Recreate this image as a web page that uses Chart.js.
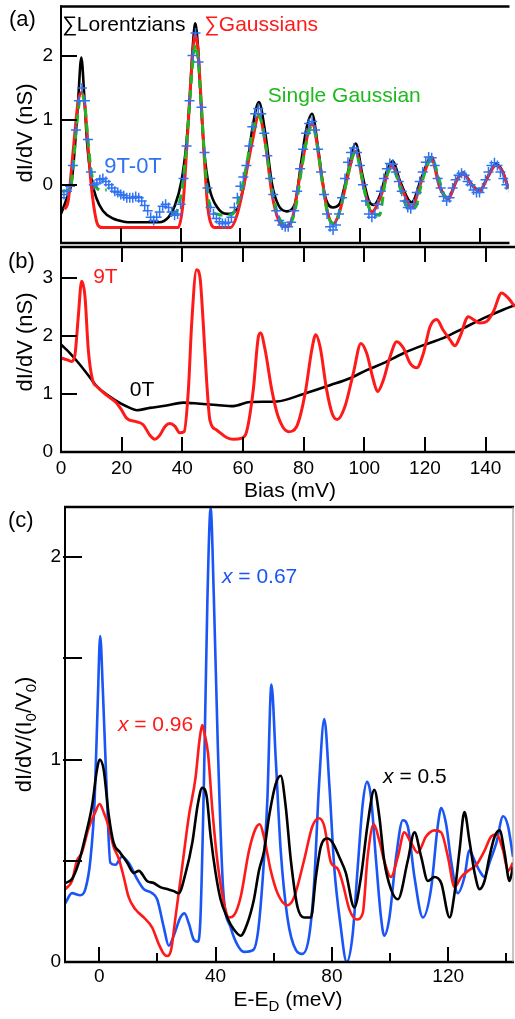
<!DOCTYPE html>
<html>
<head>
<meta charset="utf-8">
<script src="https://cdn.jsdelivr.net/npm/chart.js@4.4.1/dist/chart.umd.min.js"></script>
<style>
  html, body { margin: 0; padding: 0; background: #fff; }
  #wrap { position: relative; width: 515px; height: 1019px; overflow: hidden; }
  #wrap canvas { position: absolute; left: 0; }
</style>
</head>
<body>
<div id="wrap">
  <canvas id="cA" width="515" height="250" style="top:0px"></canvas>
  <canvas id="cB" width="515" height="262" style="top:240px"></canvas>
  <canvas id="cC" width="515" height="519" style="top:500px"></canvas>
</div>
<script>
///////////////////////////////////////////////////////////////
// data
///////////////////////////////////////////////////////////////

// (a) sum of Lorentzians
const A_LOR_X = [0, 2, 3.6, 4.7, 5.7, 6.8, 7.9, 8.7, 10.1, 11.8, 14, 17.3, 21, 24, 32.7, 36, 38.1, 40.3, 41.9, 43, 44.1, 44.9, 45.8, 46.8, 47.9, 49.6, 52.3, 55.6, 59, 60.5, 62.3, 64, 66.2, 68.4, 70.6, 72.8, 75.5, 78.2, 80.4, 82.1, 84, 86, 88.2, 90.9, 93.1, 95.8, 98.6, 100.8, 103, 104.6, 106.8, 109, 111, 113.4, 117.3, 120.6, 123.9, 126.7, 129.5, 132.3, 134.5, 137.2, 140, 142.7, 145.4, 147.6, 149.7];
const A_LOR_Y = [-0.45, -0.2, 0.06, 0.62, 1.28, 1.97, 1.28, 0.67, 0.11, -0.2, -0.4, -0.52, -0.57, -0.58, -0.58, -0.5, -0.32, 0.06, 0.62, 1.28, 2.15, 2.5, 2.15, 1.28, 0.52, -0.04, -0.35, -0.45, -0.37, -0.15, 0.3, 0.87, 1.28, 0.78, 0.01, -0.32, -0.41, -0.3, 0.37, 0.87, 1.1, 0.57, -0.15, -0.35, -0.3, 0.16, 0.64, 0.16, -0.25, -0.31, -0.15, 0.21, 0.37, 0.06, -0.27, 0.11, 0.43, -0.02, -0.2, 0.07, 0.19, 0.02, -0.09, 0.12, 0.32, 0.22, -0.05];

// (a) sum of Gaussians
const A_GAU_X = [1.2, 2.4, 4.06, 5.7, 6.8, 7.9, 9.0, 10.1, 11.8, 12.9, 14, 39.2, 40.9, 42, 43.1, 44.2, 44.9, 45.8, 46.9, 48, 49.1, 50.8, 51.5, 56.8, 59, 61.2, 64, 66.2, 68.4, 70.6, 72.8, 75, 77.5, 80.4, 84, 87.1, 89.3, 91.1, 93.6, 95.8, 98.6, 101.3, 104, 106.8, 110.6, 113.9, 117.3, 120.6, 123.9, 126.7, 129.5, 132.3, 134.5, 137.2, 140, 142.7, 145.4, 147.6, 149.7];
const A_GAU_Y = [-0.38, -0.25, 0.52, 1.28, 1.43, 1.28, 0.63, 0.0, -0.55, -0.65, -0.66, -0.66, -0.25, 0.52, 1.38, 2.1, 2.33, 2.1, 1.28, 0.37, -0.35, -0.65, -0.66, -0.66, -0.45, 0.0, 0.67, 1.08, 0.62, -0.15, -0.55, -0.65, -0.5, 0.27, 0.95, 0.16, -0.45, -0.6, -0.35, 0.11, 0.52, -0.04, -0.42, -0.2, 0.29, -0.04, -0.35, 0.06, 0.4, -0.04, -0.22, 0.06, 0.18, 0.01, -0.1, 0.11, 0.3, 0.21, -0.06];

// (a) single Gaussian fits (gap where no fit is drawn)
const A_SG_X = [0, 2, 3.3, 4.2, 5.2, 6.2, 7, 7.9, 9, 10, 11, 12, 13.5, 15.3, 20, 37, 39, 40.5, 42, 43.1, 44.2, 45, 45.8, 46.9, 48, 49.1, 50.5, 52, 55, 57.5, 59, 61, 63, 64.5, 66.2, 68.2, 70.3, 72.5, 74.5, 76.5, 78.5, 80.5, 82.5, 84, 85.8, 87.5, 89.5, 91.3, 93.3, 95.5, 97.2, 98.6, 100.3, 102.3, 104.3, 106.5, 108.5, 110.6, 112.5, 114.5, 116.3, 118.5, 120.5, 122.5, 124, 125.8, 127.8, 129.5];
const A_SG_Y = [-0.1, -0.09, -0.02, 0.35, 0.9, 1.3, 1.4, 1.25, 0.7, 0.25, 0.02, -0.05, -0.08, -0.08, null, -0.47, -0.38, -0.05, 0.6, 1.3, 1.95, 2.17, 1.95, 1.25, 0.45, -0.15, -0.4, -0.45, -0.47, -0.45, -0.3, 0.05, 0.55, 0.9, 1.06, 0.7, 0.0, -0.45, -0.6, -0.6, -0.35, 0.25, 0.75, 0.92, 0.6, 0.0, -0.5, -0.6, -0.4, 0.05, 0.4, 0.5, 0.2, -0.25, -0.45, -0.47, 0.05, 0.27, 0.1, -0.22, -0.35, -0.35, 0.0, 0.3, 0.42, 0.2, -0.12, -0.25];

// (a) measured 9T-0T
const A_DATA_X = [0, 1, 2, 3, 4, 5, 6, 7, 8, 9, 10, 11, 12, 13, 14, 15, 16, 17, 18, 19, 20, 21, 22, 23, 24, 25, 26, 27, 28, 29, 30, 31, 32, 33, 34, 35, 36, 37, 38, 39, 40, 41, 42, 43, 44, 45, 46, 47, 48, 49, 50, 51, 52, 53, 54, 55, 56, 57, 58, 59, 60, 61, 62, 63, 64, 65, 66, 67, 68, 69, 70, 71, 72, 73, 74, 75, 76, 77, 78, 79, 80, 81, 82, 83, 84, 85, 86, 87, 88, 89, 90, 91, 92, 93, 94, 95, 96, 97, 98, 99, 100, 101, 102, 103, 104, 105, 106, 107, 108, 109, 110, 111, 112, 113, 114, 115, 116, 117, 118, 119, 120, 121, 122, 123, 124, 125, 126, 127, 128, 129, 130, 131, 132, 133, 134, 135, 136, 137, 138, 139, 140, 141, 142, 143, 144, 145, 146, 147, 148, 149, 150];
const A_DATA_Y = [
  -0.2, -0.15, -0.1, -0.02, 0.3, 0.85, 1.3, 1.5, 1.3, 0.7,
  0.2, 0.0, 0.03, 0.08, 0.1, 0.05, 0.0, -0.05, -0.1, -0.12,
  -0.15, -0.17, -0.2, -0.2, -0.2, -0.18, -0.2, -0.25, -0.32, -0.4,
  -0.5, -0.55, -0.5, -0.42, -0.33, -0.3, -0.35, -0.42, -0.47, -0.45,
  -0.3, 0.1, 0.6, 1.3, 2.0, 2.35, 1.9, 1.2, 0.5, -0.05,
  -0.35, -0.45, -0.52, -0.57, -0.6, -0.6, -0.58, -0.5, -0.35, -0.2,
  -0.02, 0.12, 0.3, 0.6, 0.9, 1.1, 1.18, 1.1, 0.8, 0.45,
  0.1, -0.15, -0.4, -0.55, -0.62, -0.65, -0.65, -0.58, -0.4, -0.1,
  0.25, 0.55, 0.8, 0.95, 0.98, 0.85, 0.55, 0.2, -0.15, -0.45,
  -0.65, -0.7, -0.62, -0.45, -0.2, 0.1, 0.35, 0.5, 0.57, 0.5,
  0.3, 0.0, -0.25, -0.45, -0.5, -0.45, -0.3, -0.1, 0.1, 0.25,
  0.33, 0.32, 0.2, 0.05, -0.1, -0.25, -0.35, -0.37, -0.3, -0.12,
  0.05, 0.2, 0.35, 0.43, 0.42, 0.3, 0.1, -0.05, -0.18, -0.25,
  -0.2, -0.05, 0.08, 0.15, 0.18, 0.15, 0.05, 0.0, -0.08, -0.12,
  -0.12, -0.05, 0.08, 0.2, 0.3, 0.34, 0.3, 0.2, 0.1, 0.0,
  -0.05
];
const A_X_TICKS = [20, 40, 60, 80, 100, 120, 140];
const A_Y_TICKS = [0, 1, 2];

// (b) 9T and 0T spectra
const B_9T_X = [0, 1.9, 3.5, 4.6, 5.7, 6.8, 7.9, 9, 10.4, 11.8, 15, 18.4, 20, 21.7, 25, 27.1, 29.3, 31, 32.6, 34.3, 35.9, 37.6, 39.2, 40.6, 42, 43.1, 44.7, 45.8, 46.9, 48, 49.1, 51.3, 54.6, 56.8, 59.6, 61.2, 63.4, 65.1, 65.8, 67.3, 69.5, 71.6, 75, 77.7, 80.5, 82.7, 84, 85.4, 87.6, 89.5, 91.1, 93.6, 96.4, 98.9, 100.8, 103, 104.4, 106.3, 108.5, 110.7, 112.9, 115.1, 117.3, 119.5, 121.7, 123.9, 126, 128.3, 129.9, 131.6, 134.3, 136, 138.1, 140.4, 142.6, 145.3, 147.5, 149.7];
const B_9T_Y = [1.62, 1.59, 1.56, 1.67, 2.33, 2.94, 2.68, 1.76, 1.24, 1.13, 0.98, 0.84, 0.72, 0.58, 0.52, 0.47, 0.29, 0.22, 0.29, 0.44, 0.49, 0.44, 0.33, 0.35, 1.07, 2.22, 3.14, 3.02, 2.22, 1.24, 0.55, 0.38, 0.25, 0.22, 0.24, 0.35, 1.07, 1.99, 2.05, 1.76, 1.07, 0.61, 0.35, 0.44, 1.01, 1.76, 2.02, 1.82, 1.07, 0.65, 0.56, 0.78, 1.36, 1.87, 1.7, 1.24, 1.04, 1.24, 1.64, 1.9, 1.79, 1.53, 1.45, 1.7, 2.16, 2.28, 2.1, 1.93, 1.83, 1.99, 2.33, 2.28, 2.22, 2.25, 2.42, 2.74, 2.65, 2.5];
const B_0T_X = [0, 3, 6, 9.6, 12, 16.2, 19.5, 22.7, 25, 29.3, 34.8, 40.3, 45.8, 51.3, 56.8, 62.3, 71.1, 80, 88.7, 95.3, 100.8, 106.3, 112.9, 119.5, 126, 132.6, 139.2, 145.8, 149.7];
const B_0T_Y = [1.85, 1.7, 1.52, 1.28, 1.12, 0.95, 0.84, 0.76, 0.72, 0.76, 0.8, 0.85, 0.83, 0.81, 0.79, 0.86, 0.87, 1.0, 1.15, 1.27, 1.41, 1.53, 1.7, 1.84, 1.96, 2.13, 2.3, 2.45, 2.53];
const B_X_TICKS = [0, 20, 40, 60, 80, 100, 120, 140];
const B_Y_TICKS = [0, 1, 2, 3];

// (c) normalised spectra for three doping levels
const C_067_X = [-11.7, -9.4, -6.6, -4.8, -3.1, -1.6, -0.5, 0.3, 1.2, 2.4, 3.8, 5.5, 7.8, 10.1, 13, 15.3, 18.2, 19.9, 22.2, 23.9, 25.6, 27.9, 29.3, 30.8, 32.5, 33.9, 34.8, 36, 37.2, 38.3, 39.4, 40.8, 42.6, 45.2, 47.7, 49.8, 53, 54.6, 56.1, 57.8, 59.2, 60.7, 62.4, 64.7, 67.6, 69.9, 72.2, 73.9, 75.6, 77.4, 79.1, 80.8, 82.9, 85.1, 87.1, 88.9, 90.6, 92.1, 93.4, 95.2, 96.9, 98, 99.8, 102.1, 104.4, 106.1, 108.4, 111.3, 114.1, 116.4, 117.6, 119.3, 121, 123.3, 125.6, 127.3, 129.1, 130.8, 132.5, 134.2, 136.6, 138.9, 140.6, 142.3];
const C_067_Y = [0.29, 0.34, 0.33, 0.36, 0.5, 0.8, 1.3, 1.61, 1.35, 0.9, 0.49, 0.48, 0.52, 0.49, 0.41, 0.36, 0.34, 0.31, 0.17, 0.08, 0.13, 0.22, 0.24, 0.19, 0.11, 0.1, 0.22, 0.9, 1.8, 2.24, 1.8, 1.05, 0.36, 0.17, 0.08, 0.05, 0.06, 0.15, 0.39, 0.8, 1.37, 1.0, 0.55, 0.22, 0.06, 0.04, 0.13, 0.39, 0.88, 1.2, 0.88, 0.47, 0.19, 0.0, 0.13, 0.47, 0.78, 0.89, 0.82, 0.5, 0.22, 0.13, 0.22, 0.52, 0.7, 0.67, 0.42, 0.22, 0.36, 0.67, 0.76, 0.68, 0.5, 0.34, 0.42, 0.55, 0.5, 0.45, 0.42, 0.49, 0.59, 0.72, 0.67, 0.52];
const C_096_X = [-11.7, -9.4, -7.7, -6, -3.7, -1.4, 0.1, 1.5, 3.2, 4.9, 6.7, 8.4, 10.1, 12.4, 15.3, 18.2, 20.4, 22.2, 23.3, 24.7, 26.2, 28.5, 30.8, 33.1, 34.5, 35.4, 36.3, 37.4, 38.9, 40.6, 42.9, 44.6, 46.3, 48.6, 51.5, 53.8, 55.2, 56.6, 59, 61.3, 64.7, 67, 70.4, 73.3, 75.6, 77.4, 79.7, 82, 83.7, 86, 88.6, 90.6, 92.3, 94.4, 96.3, 98, 100.3, 102.7, 104.9, 107.2, 109.5, 112.4, 115.3, 117.6, 119.9, 122.2, 124.5, 126.8, 129.7, 132.5, 134.8, 136.6, 138.9, 140.6, 142.3];
const C_096_Y = [0.36, 0.4, 0.5, 0.54, 0.66, 0.74, 0.78, 0.74, 0.67, 0.57, 0.51, 0.42, 0.32, 0.26, 0.22, 0.17, 0.09, 0.04, 0.03, 0.06, 0.22, 0.47, 0.72, 0.91, 1.1, 1.17, 1.12, 1.03, 0.75, 0.5, 0.29, 0.22, 0.23, 0.32, 0.55, 0.66, 0.68, 0.62, 0.45, 0.34, 0.28, 0.32, 0.5, 0.67, 0.71, 0.67, 0.49, 0.46, 0.39, 0.26, 0.21, 0.24, 0.52, 0.68, 0.6, 0.5, 0.42, 0.52, 0.64, 0.59, 0.54, 0.62, 0.65, 0.64, 0.52, 0.37, 0.42, 0.45, 0.48, 0.55, 0.62, 0.63, 0.55, 0.45, 0.49];
const C_050_X = [-11.7, -9.4, -7.1, -4.8, -2.5, -0.8, 0.1, 1.5, 3.2, 4.9, 7.2, 9.6, 11.8, 13.6, 16.4, 18.7, 21, 23.3, 25.6, 27.3, 29.7, 32, 33.9, 35.4, 36.9, 38.3, 40, 41.7, 44, 46.3, 48.6, 50.9, 53.2, 54.9, 56.7, 58.4, 60.7, 62.4, 64.1, 65.9, 68.2, 70.4, 72.8, 74.5, 76.2, 78.5, 80.2, 82.5, 84.8, 87.7, 90, 92.3, 94.6, 96.3, 98, 100.3, 102.7, 106.1, 108.4, 110.7, 113, 115.3, 117.6, 120.5, 122.2, 123.9, 125.6, 127.3, 129.1, 130.8, 132.5, 134.2, 136, 137.7, 139.4, 141.1, 142.3];
const C_050_Y = [0.39, 0.41, 0.49, 0.62, 0.77, 0.95, 1.0, 0.95, 0.73, 0.59, 0.54, 0.49, 0.44, 0.45, 0.4, 0.39, 0.37, 0.36, 0.35, 0.34, 0.44, 0.59, 0.78, 0.86, 0.82, 0.62, 0.44, 0.31, 0.22, 0.16, 0.13, 0.19, 0.31, 0.45, 0.55, 0.72, 0.88, 0.92, 0.77, 0.5, 0.27, 0.22, 0.22, 0.42, 0.57, 0.61, 0.59, 0.52, 0.44, 0.27, 0.42, 0.68, 0.85, 0.72, 0.5, 0.36, 0.31, 0.5, 0.64, 0.52, 0.4, 0.42, 0.39, 0.22, 0.34, 0.55, 0.74, 0.6, 0.44, 0.36, 0.4, 0.52, 0.62, 0.65, 0.54, 0.4, 0.47];
const C_X_TICKS = [0, 20, 40, 60, 80, 100, 120, 140];
const C_X_LABELS = [0, 40, 80, 120];
const C_Y_TICKS = [0, 0.5, 1, 1.5, 2];
const C_Y_LABELS = [0, 1, 2];

///////////////////////////////////////////////////////////////
// helpers
///////////////////////////////////////////////////////////////

const FONT = "'Liberation Sans', Arial, Helvetica, sans-serif";
const RED = '#ff1a1a';
const GREEN = '#1fb81f';
const BLUE_PTS = '#2f72f2';
const BLUE = '#1a55f5';

Chart.defaults.font.family = FONT;
Chart.defaults.color = '#000';

const pts = (xs, ys) => xs.map((x, i) => ({ x, y: ys[i] }));

function line(xs, ys, color, width, extra) {
  return Object.assign({
    data: pts(xs, ys),
    borderColor: color,
    borderWidth: width,
    pointRadius: 0,
    fill: false,
    spanGaps: false,
    cubicInterpolationMode: 'monotone'
  }, extra || {});
}

function zeroPad(s) {
  s.paddingLeft = 0; s.paddingRight = 0; s.paddingTop = 0; s.paddingBottom = 0;
}

function xScale(min, max, ticks, labels, height, pad, show) {
  return {
    type: 'linear', min, max, display: show,
    afterBuildTicks: s => { s.ticks = ticks.map(v => ({ value: v })); },
    afterFit: s => { s.height = height; zeroPad(s); },
    grid: { display: false, drawTicks: false },
    border: { display: false },
    ticks: {
      autoSkip: false, maxRotation: 0, padding: pad, color: '#000',
      font: { size: 19 },
      callback: v => labels.includes(v) ? String(v) : ''
    }
  };
}

function yScale(min, max, ticks, labels, width, pad) {
  return {
    type: 'linear', min, max,
    afterBuildTicks: s => { s.ticks = ticks.map(v => ({ value: v })); },
    afterFit: s => { s.width = width; zeroPad(s); },
    grid: { display: false, drawTicks: false },
    border: { display: false },
    ticks: {
      padding: pad, color: '#000',
      font: { size: 19 },
      callback: v => labels.includes(v) ? String(v) : ''
    }
  };
}

function partsWidth(ctx, parts) {
  let w = 0;
  parts.forEach(p => { ctx.font = p.font; w += ctx.measureText(p.t).width; });
  return w;
}

function drawParts(ctx, x, y, parts) {
  let cx = x;
  parts.forEach(p => {
    ctx.font = p.font;
    ctx.fillStyle = p.color || '#000';
    ctx.fillText(p.t, cx, y + (p.dy || 0));
    cx += ctx.measureText(p.t).width;
  });
}

const F = (size, style) => `${style || ''} ${size}px ${FONT}`.trim();

// frame, inward ticks and all texts of one panel
function makeDecor(cfg) {
  return {
    id: 'decor',
    afterDraw(chart) {
      const { ctx, chartArea: a } = chart;
      const sx = chart.scales.x, sy = chart.scales.y;
      ctx.save();
      ctx.lineCap = 'butt';

      // frame
      (cfg.sides || []).forEach(sd => {
        ctx.beginPath();
        ctx.strokeStyle = sd.color || '#000';
        ctx.lineWidth = sd.w;
        if (sd.side === 'top') { ctx.moveTo(a.left - 1, a.top); ctx.lineTo(a.right + 1, a.top); }
        if (sd.side === 'bottom') { ctx.moveTo(a.left - 1, a.bottom); ctx.lineTo(a.right + 1, a.bottom); }
        if (sd.side === 'left') { ctx.moveTo(a.left, a.top - 1); ctx.lineTo(a.left, a.bottom + 1); }
        if (sd.side === 'right') { ctx.moveTo(a.right, a.top); ctx.lineTo(a.right, a.bottom); }
        ctx.stroke();
      });

      // inward ticks
      ctx.strokeStyle = '#000';
      ctx.lineWidth = 2;
      ctx.beginPath();
      (cfg.xTicks || []).forEach(t => {
        const px = Math.round(sx.getPixelForValue(t.v));
        if (t.at === 'top') { ctx.moveTo(px, a.top); ctx.lineTo(px, a.top + t.len); }
        else { ctx.moveTo(px, a.bottom); ctx.lineTo(px, a.bottom - t.len); }
      });
      (cfg.yTicks || []).forEach(t => {
        const py = Math.round(sy.getPixelForValue(t.v));
        ctx.moveTo(a.left - (t.out || 0), py); ctx.lineTo(a.left + t.len, py);
      });
      ctx.stroke();

      ctx.textBaseline = 'alphabetic';
      ctx.textAlign = 'left';

      // texts placed in data coordinates
      (cfg.notes || []).forEach(n => {
        drawParts(ctx, sx.getPixelForValue(n.x), sy.getPixelForValue(n.y), n.parts);
      });

      // texts placed in canvas pixels
      (cfg.texts || []).forEach(n => {
        const w = partsWidth(ctx, n.parts);
        if (n.rot) {
          ctx.save();
          ctx.translate(n.x, n.y);
          ctx.rotate(-Math.PI / 2);
          drawParts(ctx, -w / 2, 0, n.parts);
          ctx.restore();
        } else {
          const x0 = n.center ? n.x - w / 2 : n.x;
          drawParts(ctx, x0, n.y, n.parts);
        }
      });
      ctx.restore();
    }
  };
}

function baseOptions(padding, scales) {
  return {
    responsive: false,
    animation: false,
    devicePixelRatio: 1,
    events: [],
    layout: { padding },
    plugins: { legend: { display: false }, tooltip: { enabled: false } },
    scales
  };
}

///////////////////////////////////////////////////////////////
// panel (a)
///////////////////////////////////////////////////////////////

new Chart(document.getElementById('cA'), {
  type: 'line',
  data: {
    datasets: [
      {
        data: pts(A_DATA_X, A_DATA_Y), showLine: false,
        pointStyle: 'cross', pointRadius: 5, pointBorderWidth: 1.5,
        pointBorderColor: BLUE_PTS, pointBackgroundColor: BLUE_PTS, borderColor: BLUE_PTS
      },
      line(A_SG_X, A_SG_Y, GREEN, 3, { borderDash: [9, 6] }),
      line(A_GAU_X, A_GAU_Y, RED, 3),
      line(A_LOR_X, A_LOR_Y, '#000', 2.6)
    ]
  },
  options: baseOptions({ top: 3, bottom: 7, left: 0, right: 0 }, {
    x: xScale(0, 149.7, A_X_TICKS, [], 0, 0, false),
    y: yScale(-0.9, 2.76, A_Y_TICKS, A_Y_TICKS, 61, 8)
  }),
  plugins: [makeDecor({
    sides: [{ side: 'top', w: 2.5 }, { side: 'bottom', w: 2.5 }, { side: 'left', w: 2 }],
    xTicks: A_X_TICKS.map(v => ({ v, len: 15 })),
    yTicks: A_Y_TICKS.map(v => ({ v, len: 16 })),
    notes: [
      { x: 0.3, y: 2.38, parts: [{ t: '\u2211Lorentzians', font: F(21), color: '#000' }] },
      { x: 47.8, y: 2.38, parts: [{ t: '\u2211Gaussians', font: F(21), color: RED }] },
      { x: 69.2, y: 1.28, parts: [{ t: 'Single Gaussian', font: F(21), color: GREEN }] },
      { x: 14.5, y: 0.18, parts: [{ t: '9T-0T', font: F(22), color: BLUE_PTS }] }
    ],
    texts: [
      { x: 9, y: 26, parts: [{ t: '(a)', font: F(22) }] },
      { x: 32, y: 133, rot: true, parts: [{ t: 'dI/dV (nS)', font: F(22) }] }
    ]
  })]
});

///////////////////////////////////////////////////////////////
// panel (b)
///////////////////////////////////////////////////////////////

new Chart(document.getElementById('cB'), {
  type: 'line',
  data: {
    datasets: [
      line(B_9T_X, B_9T_Y, RED, 3),
      line(B_0T_X, B_0T_Y, '#000', 2.6)
    ]
  },
  options: baseOptions({ top: 7, bottom: 0, left: 0, right: 0 }, {
    x: xScale(0, 149.7, B_X_TICKS, B_X_TICKS, 50, 5, true),
    y: yScale(0, 3.53, B_Y_TICKS, B_Y_TICKS, 61, 8)
  }),
  plugins: [makeDecor({
    sides: [{ side: 'top', w: 2.5 }, { side: 'bottom', w: 2.5 }, { side: 'left', w: 2 }],
    xTicks: B_X_TICKS.filter(v => v > 0).map(v => ({ v, len: 15 }))
      .concat(B_X_TICKS.filter(v => v > 0).map(v => ({ v, len: 15, at: 'top' }))),
    yTicks: B_Y_TICKS.filter(v => v > 0).map(v => ({ v, len: 16 })),
    notes: [
      { x: 10.6, y: 2.91, parts: [{ t: '9T', font: F(21), color: RED }] },
      { x: 22.7, y: 0.97, parts: [{ t: '0T', font: F(21), color: '#000' }] }
    ],
    texts: [
      { x: 8, y: 28, parts: [{ t: '(b)', font: F(22) }] },
      { x: 32, y: 102, rot: true, parts: [{ t: 'dI/dV (nS)', font: F(22) }] },
      { x: 290, y: 257, center: true, parts: [{ t: 'Bias (mV)', font: F(21) }] }
    ]
  })]
});

///////////////////////////////////////////////////////////////
// panel (c)
///////////////////////////////////////////////////////////////

new Chart(document.getElementById('cC'), {
  type: 'line',
  data: {
    datasets: [
      line(C_050_X, C_050_Y, '#000', 2.6),
      line(C_096_X, C_096_Y, RED, 2.6),
      line(C_067_X, C_067_Y, BLUE, 2.6)
    ]
  },
  options: baseOptions({ top: 7, bottom: 0, left: 0, right: 2 }, {
    x: xScale(-11.8, 142.3, C_X_TICKS, C_X_LABELS, 57, 3, true),
    y: yScale(0, 2.247, C_Y_TICKS, C_Y_LABELS, 65, 4)
  }),
  plugins: [makeDecor({
    sides: [{ side: 'top', w: 2.5 }, { side: 'bottom', w: 2.5 }, { side: 'left', w: 2 },
            { side: 'right', w: 1, color: '#8a8a8a' }],
    xTicks: C_X_TICKS.map(v => ({ v, len: C_X_LABELS.includes(v) ? 15 : 9 })),
    yTicks: C_Y_TICKS.filter(v => v > 0).map(v => ({ v, len: 17, out: 2 })),
    notes: [
      { x: 42.2, y: 1.87, parts: [{ t: 'x', font: F(21, 'italic'), color: BLUE }, { t: ' = 0.67', font: F(21), color: BLUE }] },
      { x: 6.4, y: 1.14, parts: [{ t: 'x', font: F(21, 'italic'), color: RED }, { t: ' = 0.96', font: F(21), color: RED }] },
      { x: 97.6, y: 0.884, parts: [{ t: 'x', font: F(21, 'italic'), color: '#000' }, { t: ' = 0.5', font: F(21), color: '#000' }] }
    ],
    texts: [
      { x: 8, y: 27, parts: [{ t: '(c)', font: F(22) }] },
      { x: 31, y: 234.5, rot: true, parts: [
        { t: 'dI/dV/(I', font: F(22) }, { t: '0', font: F(15), dy: 5 },
        { t: '/V', font: F(22) }, { t: '0', font: F(15), dy: 5 }, { t: ')', font: F(22) }
      ] },
      { x: 288, y: 506, center: true, parts: [
        { t: 'E-E', font: F(21) }, { t: 'D', font: F(15), dy: 5 }, { t: ' (meV)', font: F(21) }
      ] }
    ]
  })]
});
</script>
</body>
</html>
